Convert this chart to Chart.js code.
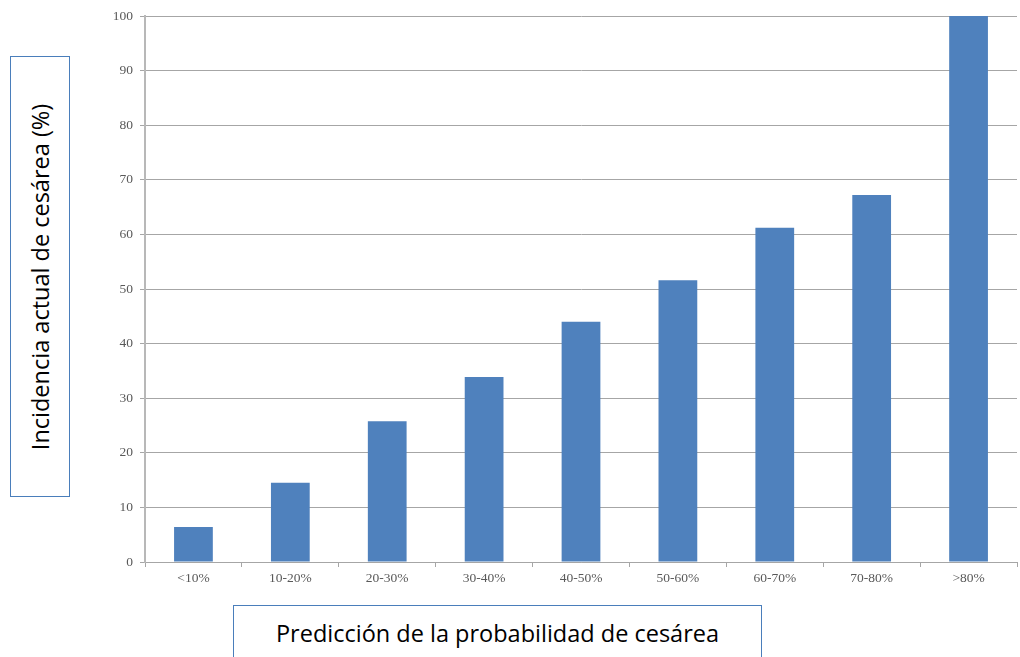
<!DOCTYPE html>
<html>
<head>
<meta charset="utf-8">
<script src="https://cdn.jsdelivr.net/npm/chart.js@4/dist/chart.umd.min.js"></script>
<style>
  body { margin: 0; background: #fff; }
  #wrap { position: relative; width: 1020px; height: 657px; overflow: hidden; }
  #myChart { position: absolute; left: 0; top: 0; }
  .axis-box {
    position: absolute;
    border: 1.5px solid #4a7ebb;
    background: #fff;
    box-sizing: border-box;
    font-family: "Open Sans", "Noto Sans", sans-serif;
    font-size: 23.5px;
    color: #000;
  }
  #yBox { left: 10px; top: 56px; width: 60px; height: 441px; }
  #yBox span {
    position: absolute; left: 50%; top: 50%;
    transform: translate(-50%, -50%) rotate(-90deg);
    white-space: nowrap;
  }
  #xBox { left: 233px; top: 605px; width: 529px; height: 70px; text-align: center; padding-top: 11px; }
</style>
</head>
<body>
<div id="wrap">
  <canvas id="myChart" width="1020" height="657"></canvas>
  <div class="axis-box" id="yBox"><span>Incidencia actual de cesárea (%)</span></div>
  <div class="axis-box" id="xBox">Predicción de la probabilidad de cesárea</div>
</div>
<script>
var categories = ["<10%", "10-20%", "20-30%", "30-40%", "40-50%", "50-60%", "60-70%", "70-80%", ">80%"];
var incidence = [6.4, 14.5, 25.8, 33.9, 44, 51.6, 61.2, 67.2, 100];
var yTicks = [0, 10, 20, 30, 40, 50, 60, 70, 80, 90, 100];

var tickFont = { family: "'Liberation Serif', 'DejaVu Serif', serif", size: 13.5 };

new Chart(document.getElementById("myChart"), {
    type: 'bar',
    data: {
        labels: categories,
        datasets: [{
            data: incidence,
            backgroundColor: '#4f81bd',
            borderWidth: 0,
            categoryPercentage: 1,
            barPercentage: 0.4
        }]
    },
    options: {
        responsive: false,
        animation: false,
        layout: { padding: { left: 100, top: 16, right: 3, bottom: 0 } },
        plugins: {
            legend: { display: false },
            tooltip: { enabled: false }
        },
        scales: {
            x: {
                grid: { drawOnChartArea: false, drawTicks: true, tickLength: 5, color: '#a6a6a6' },
                border: { color: '#a6a6a6', width: 1 },
                ticks: { font: tickFont, color: '#595959', padding: 3 },
                afterFit: function(scale){ scale.height = 95; }
            },
            y: {
                min: 0,
                max: 100,
                afterBuildTicks: function(scale){
                    scale.ticks = yTicks.map(function(v){ return { value: v }; });
                },
                grid: { color: '#a6a6a6', lineWidth: 1, tickLength: 5 },
                border: { color: '#b8b8b8', width: 2 },
                ticks: { font: tickFont, color: '#595959', padding: 7 },
                afterFit: function(scale){ scale.width = 45; }
            }
        }
    }
});
</script>
</body>
</html>
